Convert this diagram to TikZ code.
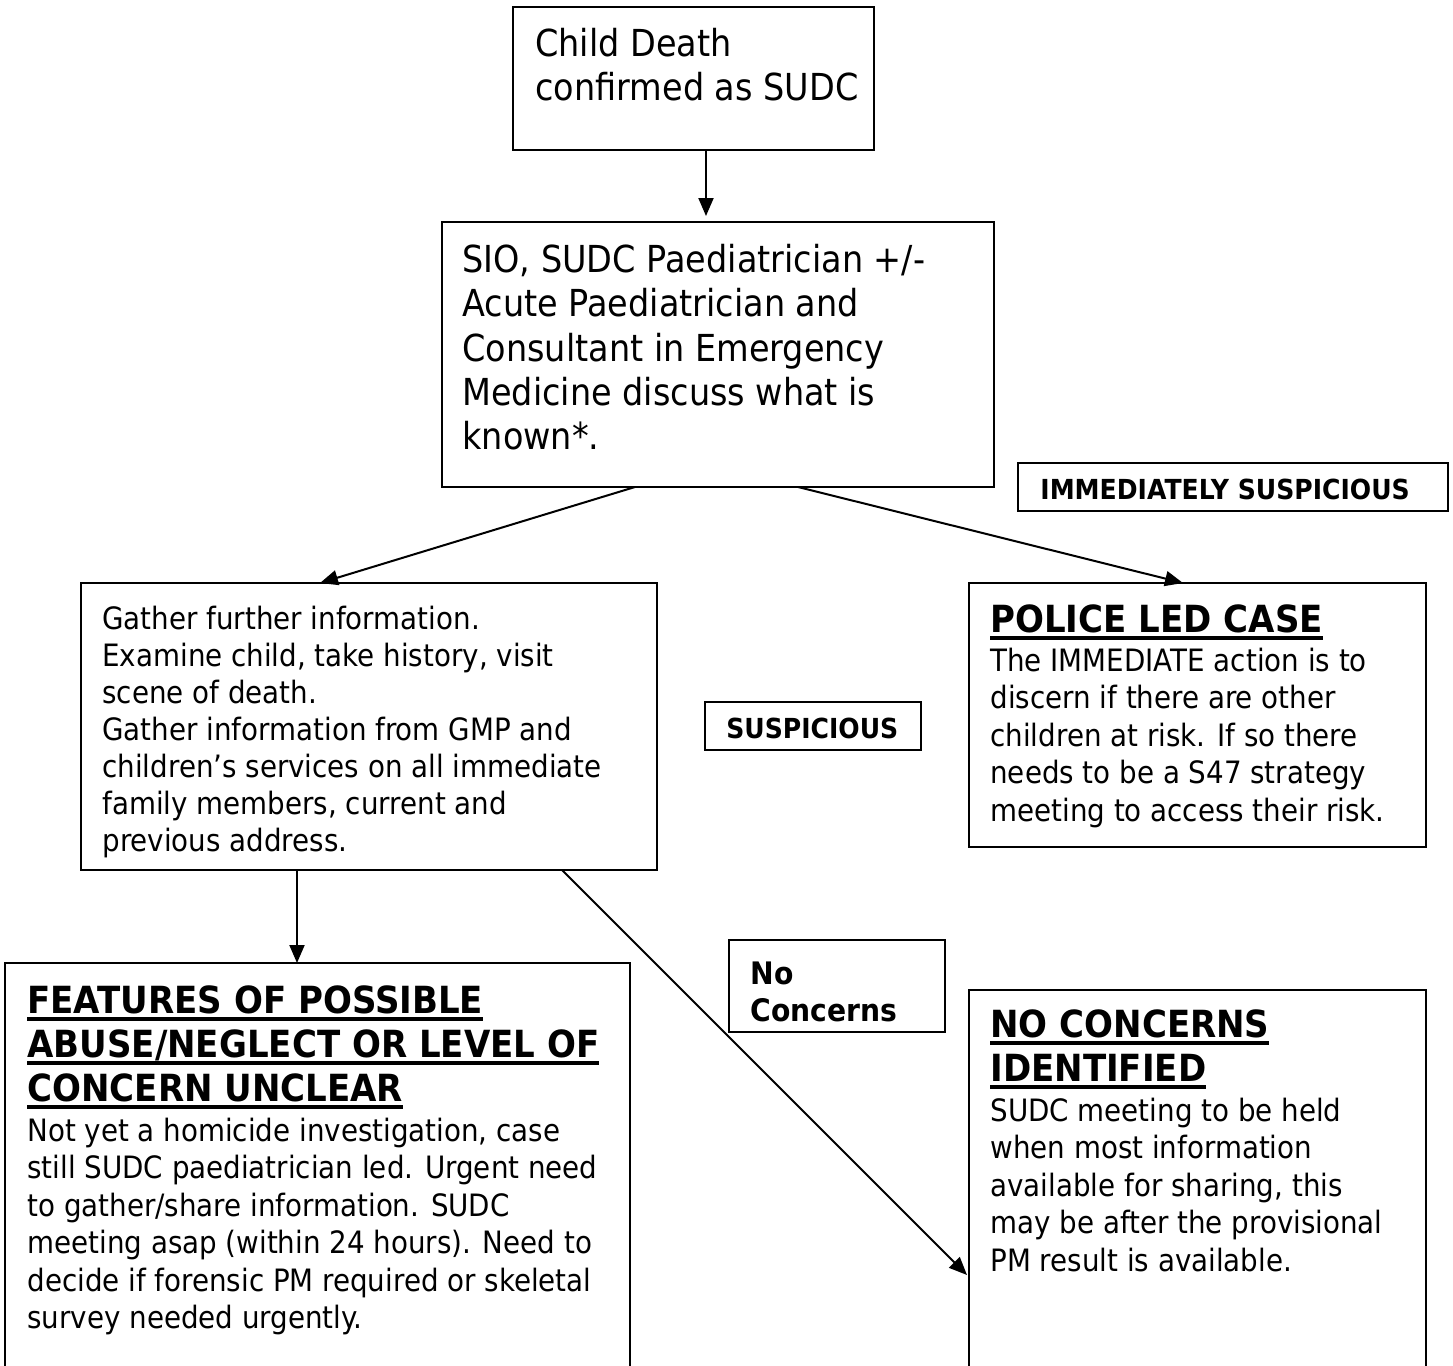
\documentclass[tikz,border=0pt]{standalone}
\usepackage{fontspec}
\setmainfont{DejaVu Sans}[FakeStretch=0.9, BoldFeatures={FakeStretch=0.91}]
\usetikzlibrary{arrows.meta}
\newcommand\ulbold[1]{\setbox0\hbox{#1}\rlap{\raisebox{-3.6pt}{\rule{\wd0}{1.8pt}}}\box0}
\tikzset{
  box/.style={draw, line width=1pt, anchor=north west, inner sep=0, outer sep=0},
  conn/.style={line width=1pt, -{Triangle[length=9pt,width=7.5pt]}},
  bigtxt/.style={font=\fontsize{18.6}{22.15}\selectfont, anchor=north west, inner sep=0, align=left, yshift=15.5pt},
  bodytxt/.style={font=\fontsize{15.4}{18.7}\selectfont, anchor=north west, inner sep=0, align=left, yshift=13.09pt},
  b3txt/.style={font=\fontsize{15.4}{18.5}\selectfont, anchor=north west, inner sep=0, align=left, yshift=12.95pt},
  titletxt/.style={font=\fontsize{18.7}{22.1}\selectfont\bfseries, anchor=north west, inner sep=0, align=left, yshift=15.47pt},
  labtxt/.style={font=\fontsize{13.8}{16}\selectfont\bfseries, anchor=base west, inner sep=0},
  nctxt/.style={font=\fontsize{15.5}{18.5}\selectfont\bfseries, anchor=north west, inner sep=0, align=left, yshift=12.95pt},
}
\begin{document}
\begin{tikzpicture}[x=0.5pt, y=-0.5pt]
\useasboundingbox (0,0) rectangle (1453,1366);
% boxes
\node[box, minimum width=180.5pt, minimum height=71.5pt] (b1) at (513,7) {};
\node[box, minimum width=276pt, minimum height=132.5pt] (b2) at (442,222) {};
\node[box, minimum width=215pt, minimum height=24pt] (imm) at (1018,463) {};
\node[box, minimum width=288pt, minimum height=143.5pt] (b3) at (81,583) {};
\node[box, minimum width=108pt, minimum height=24pt] (susp) at (705,702) {};
\node[box, minimum width=228.5pt, minimum height=132pt] (pol) at (969,583) {};
\node[box, minimum width=108pt, minimum height=46pt] (nc) at (729,940) {};
\node[box, minimum width=312.5pt, minimum height=205pt] (feat) at (5,963) {};
\node[box, minimum width=228.5pt, minimum height=191.5pt] (nci) at (969,990) {};
% texts
\node[bigtxt] (t1) at (535,56) {\strut Child Death\\confirmed as SUDC};
\node[bigtxt] (t2) at (462,272) {\strut SIO, SUDC Paediatrician +/-\\Acute Paediatrician and\\Consultant in Emergency\\Medicine discuss what is\\known*.};
\node[labtxt] (t3) at (1040,499) {IMMEDIATELY SUSPICIOUS};
\node[b3txt] (t4) at (102,629) {\strut Gather further information.\\Examine child, take history, visit\\scene of death.\\Gather information from GMP and\\children’s services on all immediate\\family members, current and\\previous address.};
\node[labtxt] (t5) at (726,738) {SUSPICIOUS};
\node[titletxt] (t6) at (990,632) {\strut\ulbold{POLICE LED CASE}};
\node[bodytxt] (t7) at (990,671) {\strut The IMMEDIATE action is to\\discern if there are other\\children at risk. If so there\\needs to be a S47 strategy\\meeting to access their risk.};
\node[nctxt] (t8) at (750,984) {\strut No\\Concerns};
\node[titletxt] (t9) at (27,1013) {\strut\ulbold{FEATURES OF POSSIBLE}\\\ulbold{ABUSE/NEGLECT OR LEVEL OF}\\\ulbold{CONCERN UNCLEAR}};
\node[bodytxt] (t10) at (27,1141) {\strut Not yet a homicide investigation, case\\still SUDC paediatrician led. Urgent need\\to gather/share information. SUDC\\meeting asap (within 24 hours). Need to\\decide if forensic PM required or skeletal\\survey needed urgently.};
\node[titletxt] (t11) at (990,1037) {\strut\ulbold{NO CONCERNS}\\\ulbold{IDENTIFIED}};
\node[bodytxt] (t12) at (990,1121) {\strut SUDC meeting to be held\\when most information\\available for sharing, this\\may be after the provisional\\PM result is available.};
% connectors
\draw[conn, shorten >=3pt] ([xshift=96.5pt]b1.south west) -- ([xshift=132pt]b2.north west);
\draw[conn] ([xshift=96.5pt]b2.south west) -- ([xshift=119.5pt]b3.north west);
\draw[conn] ([xshift=178pt]b2.south west) -- ([xshift=107pt]pol.north west);
\draw[conn] ([xshift=108pt]b3.south west) -- ([xshift=146pt]feat.north west);
\draw[conn] ([xshift=240.5pt]b3.south west) -- ([xshift=-1pt,yshift=-142.5pt]nci.north west);
\end{tikzpicture}
\end{document}
